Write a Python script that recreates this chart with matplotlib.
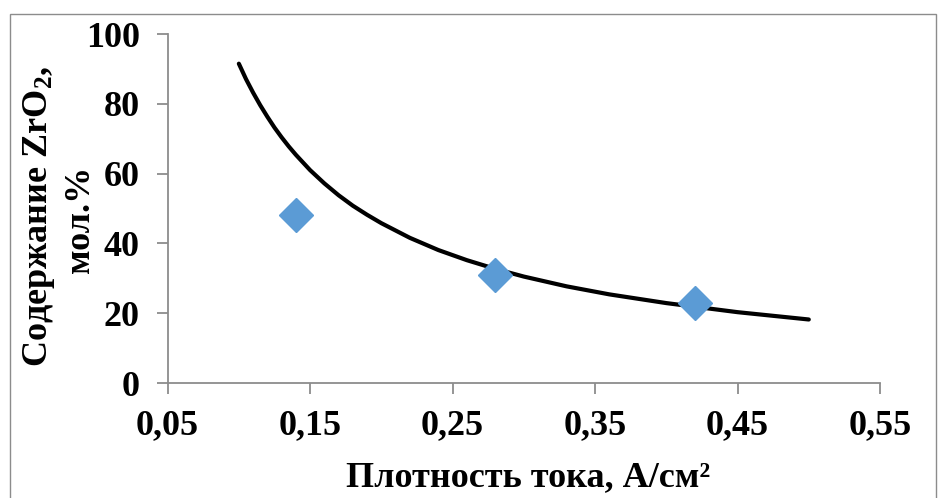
import matplotlib
matplotlib.use("Agg")
import matplotlib.pyplot as plt
from matplotlib.patches import Rectangle
from matplotlib.ticker import FuncFormatter

# Measured points
current_density = [0.14, 0.28, 0.42]
zro2_content = [48, 31, 23]

# Trend line
trend_x = [0.100, 0.105, 0.110, 0.115, 0.120, 0.125, 0.130, 0.135, 0.140, 0.150,
           0.160, 0.170, 0.180, 0.190, 0.200, 0.220, 0.240, 0.260, 0.280, 0.300,
           0.330, 0.360, 0.400, 0.450, 0.500]
trend_y = [91.5, 87.1, 83.2, 79.6, 76.3, 73.2, 70.4, 67.8, 65.4, 61.0,
           57.2, 53.8, 50.8, 48.2, 45.8, 41.6, 38.1, 35.2, 32.7, 30.5,
           27.7, 25.4, 22.9, 20.3, 18.2]

x_ticks = [0.05, 0.15, 0.25, 0.35, 0.45, 0.55]
y_ticks = [0, 20, 40, 60, 80, 100]

plt.rcParams['font.family'] = ['Liberation Serif', 'DejaVu Serif']
plt.rcParams['font.weight'] = 'bold'
plt.rcParams['mathtext.fontset'] = 'custom'
plt.rcParams['mathtext.rm'] = 'Liberation Serif:bold'
plt.rcParams['mathtext.it'] = 'Liberation Serif:bold'
plt.rcParams['mathtext.bf'] = 'Liberation Serif:bold'

FS = 26

fig = plt.figure(figsize=(9.39, 4.98), dpi=100)
ax = fig.add_axes([0.1785, 0.2309, 0.9372 - 0.1785, 0.9317 - 0.2309])

ax.plot(trend_x, trend_y, color='black', lw=3.0, solid_capstyle='round',
        solid_joinstyle='round', zorder=2)
ax.plot(current_density, zro2_content, linestyle='none', marker='D', ms=17,
        color='#5B9BD5', markeredgecolor='#5B9BD5', zorder=3)

ax.set_xlim(0.05, 0.55)
ax.set_ylim(0, 100)
ax.set_xticks(x_ticks)
ax.set_yticks(y_ticks)
ax.xaxis.set_major_formatter(FuncFormatter(lambda v, p: f"{v:.2f}".replace('.', ',')))
ax.yaxis.set_major_formatter(FuncFormatter(lambda v, p: f"{v:.0f}"))

for s in ['top', 'right']:
    ax.spines[s].set_visible(False)
for s in ['left', 'bottom']:
    ax.spines[s].set_color('#8c8c8c')
    ax.spines[s].set_linewidth(1.3)
ax.tick_params(axis='both', direction='out', length=8, width=1.3, color='#8c8c8c',
               labelsize=FS)
ax.tick_params(axis='y', pad=12)
ax.tick_params(axis='x', pad=11)
for lab in ax.get_xticklabels() + ax.get_yticklabels():
    lab.set_fontweight('bold')

fig.text(0.5625, 0.04, 'Плотность тока, А/см²', fontsize=FS, fontweight='bold',
         ha='center', va='center')
fig.text(0.042, 0.565, 'Содержание ZrO$_2$,', rotation=90, fontsize=FS,
         fontweight='bold', ha='center', va='center')
fig.text(0.086, 0.56, 'мол.%', rotation=90, fontsize=FS,
         fontweight='bold', ha='center', va='center')

fig.patches.append(Rectangle((10 / 939, -0.01), (936 - 10) / 939, 1.01 - 14 / 498,
                             transform=fig.transFigure, fill=False,
                             edgecolor='#8c8c8c', lw=1.0))

fig.savefig('out.png', dpi=100)
